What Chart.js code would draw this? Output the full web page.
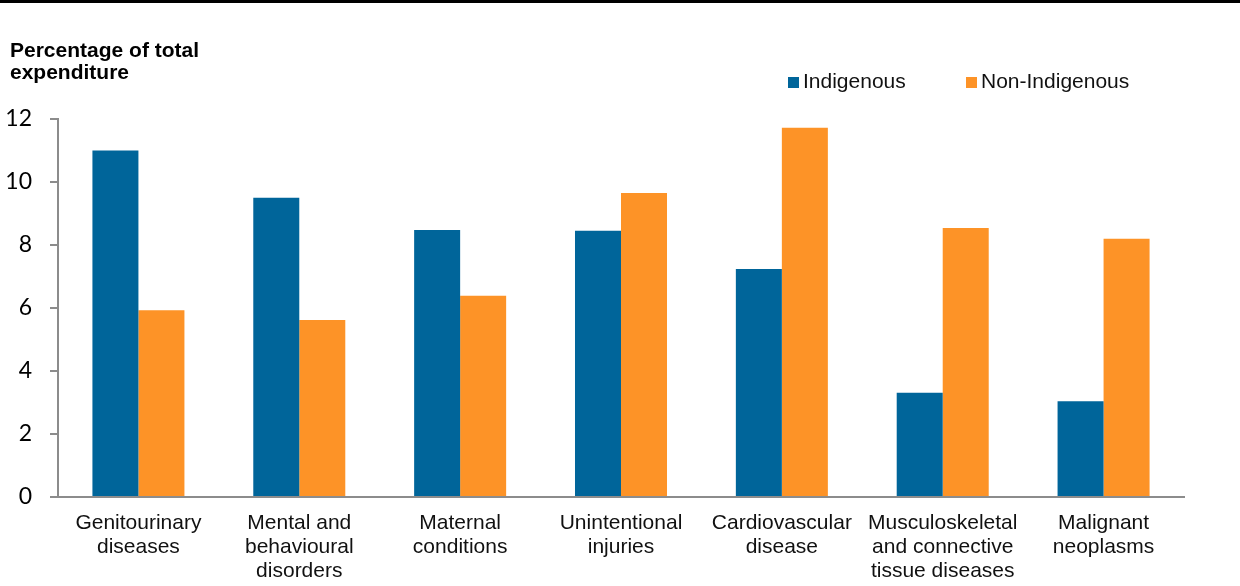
<!DOCTYPE html>
<html>
<head>
<meta charset="utf-8">
<script src="https://cdn.jsdelivr.net/npm/chart.js@4/dist/chart.umd.min.js"></script>
<style>
  html, body { margin: 0; padding: 0; background: #ffffff; }
  #wrap { width: 1240px; height: 586px; position: relative; }
</style>
</head>
<body>
<div id="wrap"><canvas id="c" width="1240" height="586"></canvas></div>
<script>
// Share of total health expenditure by disease group
const categories = [
  ['Genitourinary', 'diseases'],
  ['Mental and', 'behavioural', 'disorders'],
  ['Maternal', 'conditions'],
  ['Unintentional', 'injuries'],
  ['Cardiovascular', 'disease'],
  ['Musculoskeletal', 'and connective', 'tissue diseases'],
  ['Malignant', 'neoplasms']
];
const indigenous    = [11.0, 9.5, 8.48, 8.45, 7.24, 3.31, 3.04];
const nonIndigenous = [5.93, 5.62, 6.39, 9.65, 11.72, 8.54, 8.2];
const seriesNames = ['Indigenous', 'Non-Indigenous'];
const yTicks = [0, 2, 4, 6, 8, 10, 12];
const axisTitle = ['Percentage of total', 'expenditure'];

const BLUE = '#00659a';
const ORANGE = '#fd9327';
const AXIS = '#8c8c8c';
const SANS = '"Liberation Sans", Arial, sans-serif';

// Rule across the top, the axis title and the legend
const decorations = {
  id: 'decorations',
  beforeDraw(chart) {
    const ctx = chart.ctx;
    ctx.save();
    ctx.fillStyle = '#ffffff';
    ctx.fillRect(0, 0, chart.width, chart.height);
    ctx.fillStyle = '#000000';
    ctx.fillRect(0, 0, chart.width, 3);
    ctx.restore();
  },
  afterDraw(chart) {
    const ctx = chart.ctx;
    ctx.save();
    ctx.fillStyle = '#000000';
    ctx.font = 'bold 21px ' + SANS;
    ctx.textAlign = 'left';
    ctx.textBaseline = 'alphabetic';
    axisTitle.forEach((line, i) => ctx.fillText(line, 10, 57 + i * 22));

    // legend
    const items = chart.data.datasets.map(d => ({ text: d.label, color: d.backgroundColor }));
    const starts = [788, 966];
    ctx.font = '21px ' + SANS;
    ctx.textBaseline = 'middle';
    items.forEach((it, i) => {
      ctx.fillStyle = it.color;
      ctx.fillRect(starts[i], 77, 11, 11);
      ctx.fillStyle = '#111111';
      ctx.fillText(it.text, starts[i] + 15, 82.5);
    });
    ctx.restore();
  }
};

new Chart(document.getElementById('c'), {
  type: 'bar',
  data: {
    labels: categories,
    datasets: [
      { label: seriesNames[0], data: indigenous, backgroundColor: BLUE },
      { label: seriesNames[1], data: nonIndigenous, backgroundColor: ORANGE }
    ]
  },
  options: {
    responsive: false,
    animation: false,
    devicePixelRatio: 1,
    layout: { padding: { top: 119, right: 56, bottom: 0, left: 0 } },
    datasets: { bar: { categoryPercentage: 0.572, barPercentage: 1.0 } },
    plugins: {
      legend: { display: false },
      title: { display: false },
      tooltip: { enabled: false }
    },
    scales: {
      x: {
        grid: { display: false, drawTicks: false },
        border: { display: true, color: AXIS, width: 2 },
        ticks: {
          color: '#111111',
          padding: 14,
          maxRotation: 0,
          autoSkip: false,
          font: { family: SANS, size: 21, lineHeight: 24 / 21 }
        },
        afterFit(scale) { scale.height = 89; }
      },
      y: {
        min: 0,
        max: 12,
        afterBuildTicks(scale) { scale.ticks = yTicks.map(v => ({ value: v })); },
        grid: {
          display: true,
          drawOnChartArea: false,
          drawTicks: true,
          tickLength: 8,
          color: AXIS,
          lineWidth: 2
        },
        border: { display: true, color: AXIS, width: 2 },
        ticks: {
          color: '#000000',
          padding: 18,
          font: { family: 'Lato, "Open Sans", sans-serif', size: 23 }
        },
        afterFit(scale) { scale.width = 58; }
      }
    }
  },
  plugins: [decorations]
});
</script>
</body>
</html>
